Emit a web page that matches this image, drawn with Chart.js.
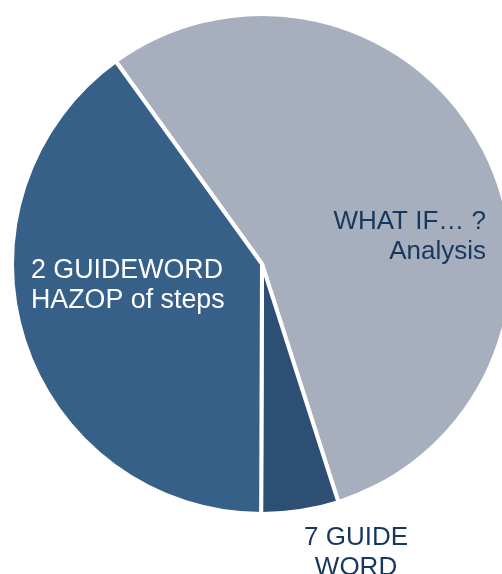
<!DOCTYPE html>
<html>
<head>
<meta charset="utf-8">
<script src="https://cdn.jsdelivr.net/npm/chart.js@4"></script>
<style>
  html, body { margin: 0; padding: 0; background: #fff; overflow: hidden; }
  #wrap { position: relative; width: 502px; height: 574px; overflow: hidden; }
  #pie { position: absolute; left: 0; top: 0; }
</style>
</head>
<body>
<div id="wrap"><canvas id="pie" width="524" height="574"></canvas></div>
<script>
// 데이터
const categories = [
  ["WHAT IF… ?", "Analysis"],
  ["7 GUIDE", "WORD"],
  ["2 GUIDEWORD", "HAZOP of steps"],
];
const shares = [55, 5, 40];

const sliceColors = ["#a7afbe", "#2d4f73", "#376089"];
const textColors = ["#17375e", "#17375e", "#ffffff"];

// 조각별 라벨 위치 (원 중심 기준 오프셋) / 정렬 / 글자 크기
const labelOffsets = [
  { dx: 224, dy: -35, align: "right", size: 26 },
  { dx: 94, dy: 281, align: "center", size: 26 },
  { dx: -231, dy: 14, align: "left", size: 26.8 },
];
const lineGap = 30;

const sliceLabelPlugin = {
  id: "sliceLabel",
  afterDatasetsDraw(chart) {
    const { ctx } = chart;
    const meta = chart.getDatasetMeta(0);
    ctx.save();
    ctx.textBaseline = "alphabetic";
    meta.data.forEach(function (arc, i) {
      const o = labelOffsets[i];
      ctx.font = o.size + "px 'Liberation Sans', Arial, sans-serif";
      ctx.fillStyle = textColors[i];
      ctx.textAlign = o.align;
      categories[i].forEach(function (line, k) {
        ctx.fillText(line, arc.x + o.dx, arc.y + o.dy + k * lineGap);
      });
    });
    ctx.restore();
  },
};

new Chart(document.getElementById("pie"), {
  type: "pie",
  data: {
    labels: categories.map((c) => c.join(" ")),
    datasets: [
      {
        data: shares,
        backgroundColor: sliceColors,
        borderColor: "#ffffff",
        borderWidth: 4,
      },
    ],
  },
  options: {
    responsive: false,
    animation: false,
    rotation: -35.8,
    layout: { padding: { left: 10, top: 12, right: 10, bottom: 58 } },
    plugins: { legend: { display: false }, tooltip: { enabled: false } },
  },
  plugins: [sliceLabelPlugin],
});
</script>
</body>
</html>
